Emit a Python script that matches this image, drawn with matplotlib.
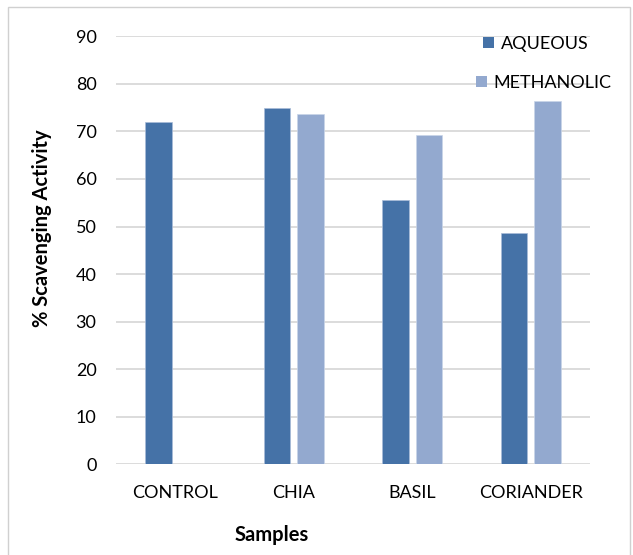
import numpy as np
import matplotlib
matplotlib.use("Agg")
import matplotlib.pyplot as plt
from matplotlib.patches import Rectangle, Patch

samples = ["CONTROL", "CHIA", "BASIL", "CORIANDER"]
aqueous = [72.0, 75.0, 55.5, 48.6]
methanolic = [np.nan, 73.6, 69.3, 76.4]

plt.rcParams["font.family"] = ["Lato", "DejaVu Sans"]

W, H = 633, 555
fig = plt.figure(figsize=(W / 100, H / 100), dpi=100)
# outer chart frame
fig.patches.append(Rectangle((8 / W, -0.01), 622 / W, 1 - 7 / H + 0.01,
                             transform=fig.transFigure, fill=False,
                             edgecolor="#d0d0d0", linewidth=1))
ax = fig.add_axes([116 / W, 1 - 464.3 / H, 474 / W, 428 / H])

x = np.arange(len(samples))
w = 0.224
off = 0.143
c_aq = "#4572a7"
c_me = "#93a9cf"
ax.bar(x - off, aqueous, w, color=c_aq, edgecolor="#a9bcd8", linewidth=0.5, zorder=3)
ax.bar(x + off, methanolic, w, color=c_me, edgecolor="#c9d5e8", linewidth=0.5, zorder=3)

ax.set_xlim(-0.5, 3.5)
ax.set_ylim(0, 90)
ax.set_yticks(range(0, 91, 10))
ax.set_xticks(x)
ax.set_xticklabels(samples)
ax.grid(axis="y", color="#d9d9d9", linewidth=1.3, zorder=0)
for s in ax.spines.values():
    s.set_visible(False)
ax.tick_params(axis="both", length=0, labelsize=13, colors="black")
ax.tick_params(axis="y", pad=14)
ax.tick_params(axis="x", pad=15)

ax.set_ylabel("% Scavenging Activity", fontsize=14.5, fontweight="bold")
ax.set_xlabel("Samples", fontsize=14.5, fontweight="bold")
ax.yaxis.set_label_coords(-(116 - 42) / 474, (464.3 - 228) / 428)
ax.xaxis.set_label_coords((272 - 116) / 474, -(535 - 464.3) / 428)
ax.xaxis.label.set_va("center")
ax.yaxis.label.set_va("center")

# legend entries, one per row
for lbl, col, lx, ly in [("AQUEOUS", c_aq, 483, 44), ("METHANOLIC", c_me, 476, 83)]:
    fig.legend(handles=[Patch(facecolor=col, label=lbl)], loc="center left",
               bbox_to_anchor=(lx / W, 1 - ly / H), frameon=False, fontsize=13,
               handlelength=0.62, handleheight=0.62, handletextpad=0.35,
               borderpad=0, borderaxespad=0)

fig.savefig("out.png", dpi=100)
